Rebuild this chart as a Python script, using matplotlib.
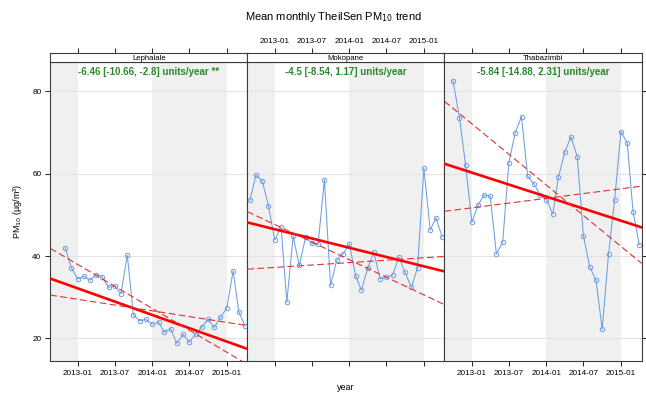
import numpy as np
import pandas as pd
import matplotlib
matplotlib.use("Agg")
import matplotlib.pyplot as plt
import matplotlib.dates as mdates

plt.rcParams['font.family'] = ['Liberation Sans', 'DejaVu Sans']

# monthly means
sites = ["Lephalale", "Mokopane", "Thabazimbi"]

lephalale_start = "2012-11-01"
lephalale_pm10 = [42.0, 37.1, 34.5, 35.1, 34.1, 35.5, 34.9, 32.4, 32.7, 30.9,
                  40.2, 25.7, 24.3, 24.6, 23.4, 24.0, 21.5, 22.4, 18.8, 21.0,
                  19.1, 21.0, 22.8, 24.6, 22.7, 25.2, 27.3, 36.4, 26.5, 23.0]

mokopane_start = "2012-09-01"
mokopane_pm10 = [53.5, 59.6, 58.2, 52.2, 43.9, 47.0, 28.8, 44.8, 37.7, 44.6,
                 43.1, 42.8, 58.5, 32.9, 39.0, 40.5, 42.9, 35.2, 31.7, 37.1,
                 40.9, 34.5, 34.8, 35.4, 39.7, 36.0, 32.4, 37.2, 61.3, 46.3,
                 49.2, 44.6]

thabazimbi_start = "2012-10-01"
thabazimbi_pm10 = [82.5, 73.6, 62.1, 48.2, 52.4, 54.8, 54.5, 40.5, 43.4, 62.6,
                   69.9, 73.8, 59.4, 57.5, 54.8, 53.7, 50.2, 59.2, 65.2, 68.9,
                   64.1, 44.9, 37.4, 34.1, 22.2, 40.4, 53.7, 70.2, 67.3, 50.8,
                   42.7]

# Theil-Sen slopes (units/year): estimate, lower, upper
slopes = [(-6.46, -10.66, -2.8), (-4.5, -8.54, 1.17), (-5.84, -14.88, 2.31)]
# fitted line values at 2014-01-01 for estimate, lower and upper slope lines
centres = [(25.7, 27.3, 26.7), (42.0, 39.1, 38.4), (54.4, 57.2, 54.0)]
signif = ["**", "", ""]

tick_labels = ["2013-01", "2013-07", "2014-01", "2014-07", "2015-01"]

series = [(lephalale_start, lephalale_pm10),
          (mokopane_start, mokopane_pm10),
          (thabazimbi_start, thabazimbi_pm10)]

x_lo = mdates.date2num(pd.Timestamp("2012-08-20"))
x_hi = mdates.date2num(pd.Timestamp("2015-04-12"))
ref = mdates.date2num(pd.Timestamp("2014-01-01"))
ticks = [mdates.date2num(pd.Timestamp(t + "-01")) for t in tick_labels]

W, H = 646, 394
fig = plt.figure(figsize=(W / 100, H / 100), dpi=100)

left0, pw = 50.3, 197.1
top_px, bot_px, strip_h = 62.3, 360.7, 9.0
frame_col = "#3c3c3c"
blue = "#6f9ee0"

for i, site in enumerate(sites):
    x0 = left0 + i * pw
    ax = fig.add_axes([x0 / W, 1 - bot_px / H, pw / W, (bot_px - top_px) / H])
    st = fig.add_axes([x0 / W, 1 - top_px / H, pw / W, strip_h / H])

    ax.set_xlim(x_lo, x_hi)
    ax.set_ylim(14.6, 87.0)

    # alternate year shading
    ax.axvspan(x_lo, ticks[0], color="#f0f0f0", lw=0, zorder=0)
    ax.axvspan(ticks[2], ticks[4], color="#f0f0f0", lw=0, zorder=0)
    for yv in [20, 40, 60, 80]:
        ax.axhline(yv, color="#e3e3e3", lw=0.8, zorder=1)

    start, vals = series[i]
    dates = mdates.date2num(pd.date_range(start, periods=len(vals), freq="MS"))
    ax.plot(dates, vals, color=blue, lw=0.75, marker="o", ms=3.2,
            mfc="none", mec=blue, mew=0.7, zorder=3)

    xs = np.array([x_lo, x_hi])
    yrs = (xs - ref) / 365.25
    est, lo, hi = slopes[i]
    c_est, c_lo, c_hi = centres[i]
    ax.plot(xs, c_est + est * yrs, color="red", lw=1.9, zorder=4)
    ax.plot(xs, c_lo + lo * yrs, color="#e03030", lw=0.8,
            ls=(0, (6, 3)), zorder=4)
    ax.plot(xs, c_hi + hi * yrs, color="#e03030", lw=0.8,
            ls=(0, (6, 3)), zorder=4)

    label = f"{est:g} [{lo:g}, {hi:g}] units/year"
    if signif[i]:
        label += " " + signif[i]
    ax.text(0.5, 0.9665, label, transform=ax.transAxes, ha="center",
            va="center", color="#2a8a2a", fontsize=7, fontweight="bold")

    for a in (ax, st):
        for s in a.spines.values():
            s.set_color(frame_col)
            s.set_linewidth(0.8)

    # bottom ticks, labels only on outer panels
    ax.set_xticks(ticks)
    ax.tick_params(axis="x", direction="out", length=3.4, width=0.7,
                   color="#222222", labelsize=5.9, pad=3.0,
                   labelbottom=(i != 1))
    ax.set_xticklabels(tick_labels)

    # y ticks: left labels on first panel, bare ticks on the right of last
    ax.set_yticks([20, 40, 60, 80])
    ax.tick_params(axis="y", direction="out", length=3.4, width=0.7,
                   color="#222222", labelsize=5.9, pad=3.0,
                   left=(i == 0), labelleft=(i == 0),
                   right=(i == 2), labelright=False)

    # strip with site name and top ticks
    st.set_xlim(x_lo, x_hi)
    st.set_ylim(0, 1)
    st.set_yticks([])
    st.set_xticks(ticks)
    st.set_xticklabels(tick_labels)
    st.tick_params(axis="x", direction="out", length=3.6, width=0.7,
                   color="#222222", labelsize=5.9, pad=2.2,
                   bottom=False, labelbottom=False,
                   top=True, labeltop=(i == 1))
    st.text(0.5, 0.45, site, transform=st.transAxes, ha="center",
            va="center", fontsize=5.6)

fig.text(333.7 / W, 1 - 16.7 / H, "Mean monthly TheilSen PM$_{10}$ trend",
         ha="center", va="center", fontsize=8)
fig.text(346 / W, 1 - 388 / H, "year", ha="center", va="center",
         fontsize=6.5)
fig.text(17 / W, 1 - 211.5 / H, "PM$_{10}$ (\u00b5g/m\u00b3)", ha="center",
         va="center", rotation=90, fontsize=6.5)

fig.savefig("out.png", dpi=100)
